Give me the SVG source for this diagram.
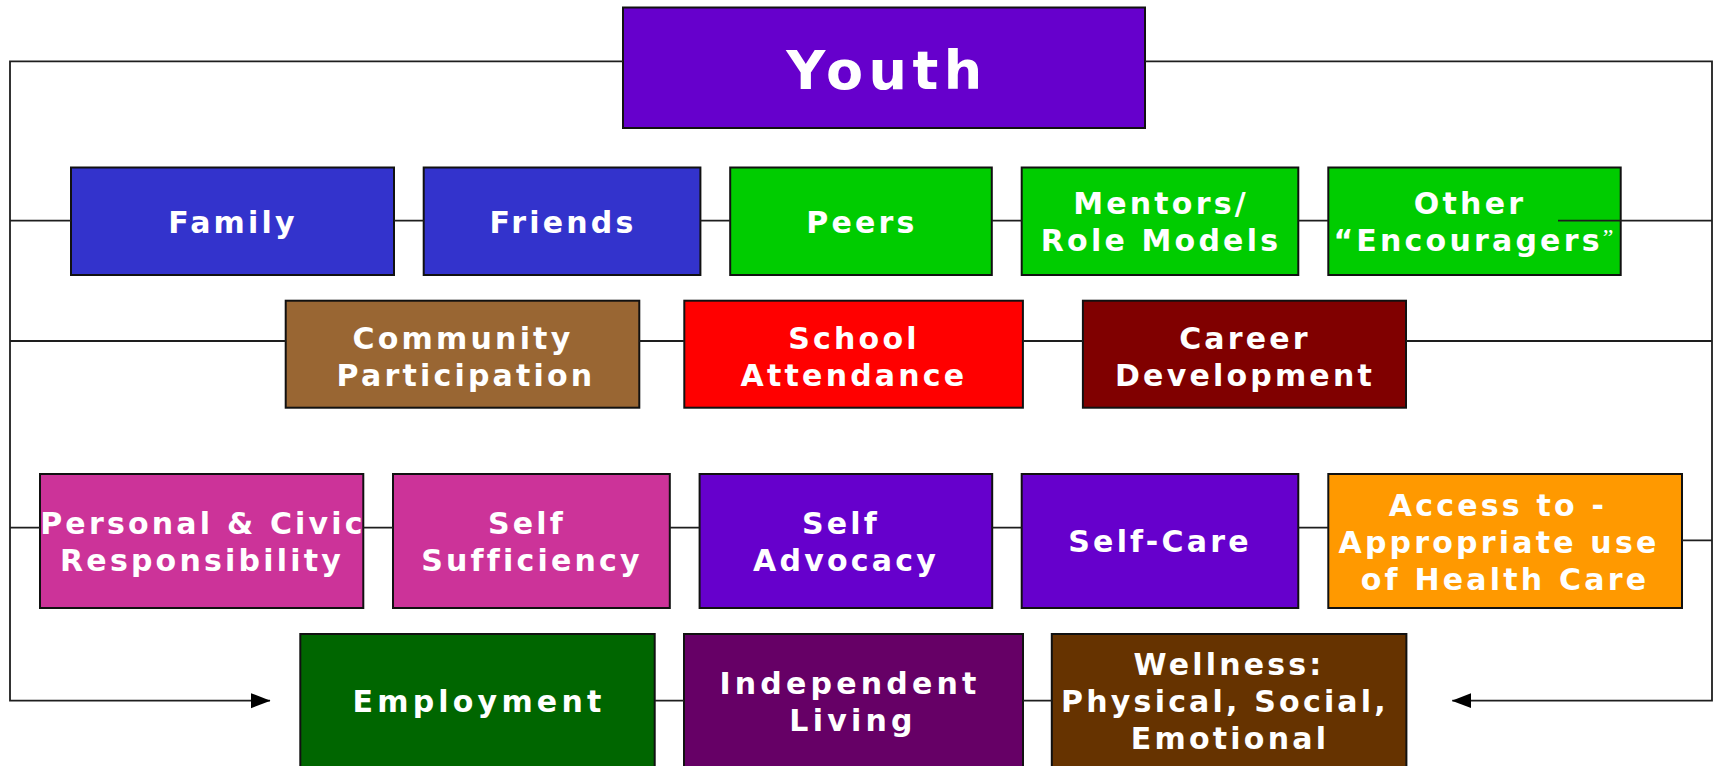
<svg xmlns="http://www.w3.org/2000/svg" width="1716" height="766" viewBox="0 0 1716 766">
<defs>
<style>
.box{stroke:#111;stroke-width:2}
.t{font-family:"DejaVu Sans","Verdana",sans-serif;font-weight:bold;font-size:30px;letter-spacing:3.2px;fill:#fff;text-anchor:middle}
.big{font-size:54px;letter-spacing:5.5px}
.w{letter-spacing:4.2px}
.c{fill:none;stroke:#1e1e1e;stroke-width:1.8}
</style>
<marker id="ah" markerUnits="userSpaceOnUse" markerWidth="20" markerHeight="16" refX="19" refY="8" orient="auto">
<path d="M0,0.5 L19.5,8 L0,15.5 Z" fill="#000"/>
</marker>
</defs>
<rect width="1716" height="766" fill="#fff"/>

<g id="youth"><rect class="box" x="623" y="7.5" width="522" height="120.5" fill="#6600CC"/><text class="t big" x="887" y="89">Youth</text></g>

<g id="family"><rect class="box" x="71" y="167.5" width="323" height="107.5" fill="#3333CC"/><text class="t" x="233" y="232.5">Family</text></g>
<g id="friends"><rect class="box" x="423.7" y="167.5" width="276.7" height="107.5" fill="#3333CC"/><text class="t" x="563" y="232.5">Friends</text></g>
<g id="peers"><rect class="box" x="730.2" y="167.5" width="261.6" height="107.5" fill="#00CC00"/><text class="t" x="862" y="232.5">Peers</text></g>
<g id="mentors"><rect class="box" x="1021.7" y="167.5" width="276.6" height="107.5" fill="#00CC00"/><text class="t" x="1161" y="213.5">Mentors/</text><text class="t" x="1161" y="251">Role Models</text></g>
<g id="other"><rect class="box" x="1328.3" y="167.5" width="292.4" height="107.5" fill="#00CC00"/><text class="t" x="1470" y="213.5">Other</text><text class="t" x="1475" y="251">“Encouragers<tspan style="font-family:'Liberation Serif',serif;font-weight:normal;font-size:24px" dy="-6">”</tspan></text></g>

<g id="community"><rect class="box" x="285.7" y="300.7" width="353.6" height="107" fill="#996633"/><text class="t" x="463" y="348.5">Community</text><text class="t" x="466" y="385.5">Participation</text></g>
<g id="school"><rect class="box" x="684.3" y="300.7" width="338.6" height="107" fill="#FF0000"/><text class="t" x="854" y="348.5">School</text><text class="t" x="854" y="385.5">Attendance</text></g>
<g id="career"><rect class="box" x="1082.9" y="300.7" width="323.1" height="107" fill="#800000"/><text class="t" x="1245" y="348.5">Career</text><text class="t" x="1245" y="385.5">Development</text></g>

<g id="personal"><rect class="box" x="40" y="474" width="323.3" height="134" fill="#CC3399"/><text class="t" x="203" y="533.5">Personal &amp; Civic</text><text class="t" x="202" y="571">Responsibility</text></g>
<g id="selfsufficiency"><rect class="box" x="393" y="474" width="276.8" height="134" fill="#CC3399"/><text class="t" x="527" y="533.5">Self</text><text class="t" x="532" y="571">Sufficiency</text></g>
<g id="selfadvocacy"><rect class="box" x="699.6" y="474" width="292.6" height="134" fill="#6600CC"/><text class="t" x="841" y="533.5">Self</text><text class="t" x="846" y="571">Advocacy</text></g>
<g id="selfcare"><rect class="box" x="1021.7" y="474" width="276.6" height="134" fill="#6600CC"/><text class="t" x="1160" y="552">Self-Care</text></g>
<g id="access"><rect class="box" x="1328.3" y="474" width="353.7" height="134" fill="#FF9900"/><text class="t" x="1498" y="515.5">Access to -</text><text class="t" x="1499" y="552.5">Appropriate use</text><text class="t" x="1505" y="589.5">of Health Care</text></g>

<g id="employment"><rect class="box" x="300.3" y="634" width="354.4" height="134" fill="#006600"/><text class="t w" x="479" y="712">Employment</text></g>
<g id="independent"><rect class="box" x="684" y="634" width="339" height="134" fill="#660066"/><text class="t w" x="850" y="694">Independent</text><text class="t w" x="853" y="731">Living</text></g>
<g id="wellness"><rect class="box" x="1051.8" y="634" width="354.6" height="134" fill="#663300"/><text class="t" x="1229" y="675">Wellness:</text><text class="t" x="1225" y="712">Physical, Social,</text><text class="t" x="1230" y="749">Emotional</text></g>

<g id="connectors">
<path class="c" d="M623,61.3 H10 V700.7 H270" marker-end="url(#ah)"/>
<path class="c" d="M1145,61.3 H1712 V700.7 H1452.3" marker-end="url(#ah)"/>
<path class="c" d="M10,220.7 H71 M394,220.7 H423.7 M700.4,220.7 H730.2 M991.8,220.7 H1021.7 M1298.3,220.7 H1328.3 M1558,220.7 H1712"/>
<path class="c" d="M10,341 H285.7 M639.3,341 H684.3 M1022.9,341 H1082.9 M1406,341 H1712"/>
<path class="c" d="M10,527.7 H40 M363.3,527.7 H393 M669.8,527.7 H699.6 M992.2,527.7 H1021.7 M1298.3,527.7 H1328.3 M1682,540.3 H1712"/>
<path class="c" d="M654.7,700.7 H684 M1023,700.7 H1051.8"/>
</g>
</svg>
